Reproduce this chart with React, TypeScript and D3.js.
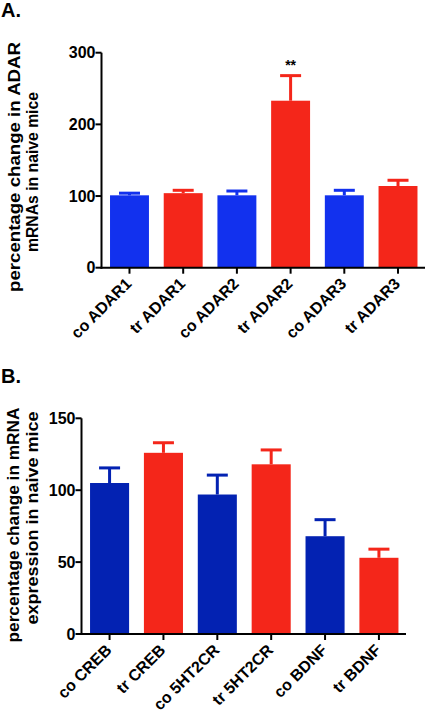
import React from "react";
import * as d3 from "d3";

const catsA = ["co ADAR1", "tr ADAR1", "co ADAR2", "tr ADAR2", "co ADAR3", "tr ADAR3"];
const valsA = [101, 104, 101, 233, 101, 114];
const errsA = [3, 4, 6, 35, 7, 8];
const ticksA = [0, 100, 200, 300];

const catsB = ["co CREB", "tr CREB", "co 5HT2CR", "tr 5HT2CR", "co BDNF", "tr BDNF"];
const valsB = [105, 126, 97, 118, 68, 53];
const errsB = [10.5, 7, 13.5, 10, 11.5, 6];
const ticksB = [0, 50, 100, 150];

const groups = ["co", "tr", "co", "tr", "co", "tr"];

const FONT = "'Liberation Sans', Arial, Helvetica, sans-serif";
const RED = "#f4261a";

type PanelProps = {
  cats: string[];
  vals: number[];
  errs: number[];
  ticks: number[];
  yMax: number;
  x0: number;
  x1: number;
  yTop: number;
  yBottom: number;
  blue: string;
  label1: string;
  label2: string;
  len1: number;
  len2: number;
  labelX1: number;
  labelX2: number;
  labelY1: number;
  labelY2: number;
  stars?: string[];
};

function Panel(p: PanelProps) {
  const x = d3.scaleBand<string>().domain(p.cats).range([p.x0, p.x1]).paddingInner(0.275).paddingOuter(0.14);
  const y = d3.scaleLinear().domain([0, p.yMax]).range([p.yBottom, p.yTop]);
  const bw = x.bandwidth();
  return (
    <g fontFamily={FONT} fontWeight="bold">
      {p.cats.map((c, i) => {
        const col = groups[i] === "co" ? p.blue : RED;
        const cx = (x(c) as number) + bw / 2;
        const top = y(p.vals[i]);
        const et = y(p.vals[i] + p.errs[i]);
        return (
          <g key={c}>
            <line x1={cx} x2={cx} y1={top} y2={et} stroke={col} strokeWidth={3} />
            <line x1={cx - 10.5} x2={cx + 10.5} y1={et} y2={et} stroke={col} strokeWidth={3} />
            <rect x={x(c)} y={top} width={bw} height={p.yBottom - top} fill={col} />
            {p.stars && p.stars[i] ? (
              <text x={cx} y={et - 6} textAnchor="middle" fontSize={14} fill="#000">
                {p.stars[i]}
              </text>
            ) : null}
            <line x1={cx} x2={cx} y1={p.yBottom} y2={p.yBottom + 6} stroke="#000" strokeWidth={2} />
            <text
              transform={`translate(${cx + 3},${p.yBottom + 17}) rotate(-45)`}
              textAnchor="end"
              fontSize={16}
              fill="#000"
            >
              {c}
            </text>
          </g>
        );
      })}
      <line x1={p.x0 - 1} x2={p.x0 - 1} y1={p.yTop} y2={p.yBottom + 1} stroke="#000" strokeWidth={2} />
      <line x1={p.x0 - 2} x2={p.x1} y1={p.yBottom} y2={p.yBottom} stroke="#000" strokeWidth={2} />
      {p.ticks.map((t) => (
        <g key={t}>
          <line x1={p.x0 - 7} x2={p.x0 - 1} y1={y(t)} y2={y(t)} stroke="#000" strokeWidth={2} />
          <text x={p.x0 - 7} y={y(t)} dy="0.36em" textAnchor="end" fontSize={16} fill="#000">
            {t}
          </text>
        </g>
      ))}
      <text
        transform={`translate(${p.labelX1},${p.labelY1}) rotate(-90)`}
        textAnchor="middle"
        fontSize={17}
        fill="#000"
        textLength={p.len1}
        lengthAdjust="spacingAndGlyphs"
      >
        {p.label1}
      </text>
      <text
        transform={`translate(${p.labelX2},${p.labelY2}) rotate(-90)`}
        textAnchor="middle"
        fontSize={17}
        fill="#000"
        textLength={p.len2}
        lengthAdjust="spacingAndGlyphs"
      >
        {p.label2}
      </text>
    </g>
  );
}

export default function App() {
  return (
    <svg width={427} height={713} style={{ position: "absolute", left: 0, top: 0, background: "#fff" }}>
      <rect width={427} height={713} fill="#fff" />
      <text x={1} y={17} fontFamily={FONT} fontWeight="bold" fontSize={20} fill="#000">A.</text>
      <text x={1} y={383} fontFamily={FONT} fontWeight="bold" fontSize={20} fill="#000">B.</text>
      <Panel
        cats={catsA}
        vals={valsA}
        errs={errsA}
        ticks={ticksA}
        yMax={300}
        x0={102.5}
        x1={425}
        yTop={52.7}
        yBottom={267.7}
        blue="#1231ee"
        label1="percentage change in ADAR"
        label2="mRNAs in naive mice"
        len1={250}
        len2={160}
        labelX1={20}
        labelX2={38}
        labelY1={167}
        labelY2={172}
        stars={["", "", "", "**", "", ""]}
      />
      <Panel
        cats={catsB}
        vals={valsB}
        errs={errsB}
        ticks={ticksB}
        yMax={150}
        x0={82.5}
        x1={406}
        yTop={418.3}
        yBottom={634}
        blue="#0322b2"
        label1="percentage change in mRNA"
        label2="expression in naive mice"
        len1={235}
        len2={213}
        labelX1={19}
        labelX2={38}
        labelY1={525}
        labelY2={518}
      />
    </svg>
  );
}
